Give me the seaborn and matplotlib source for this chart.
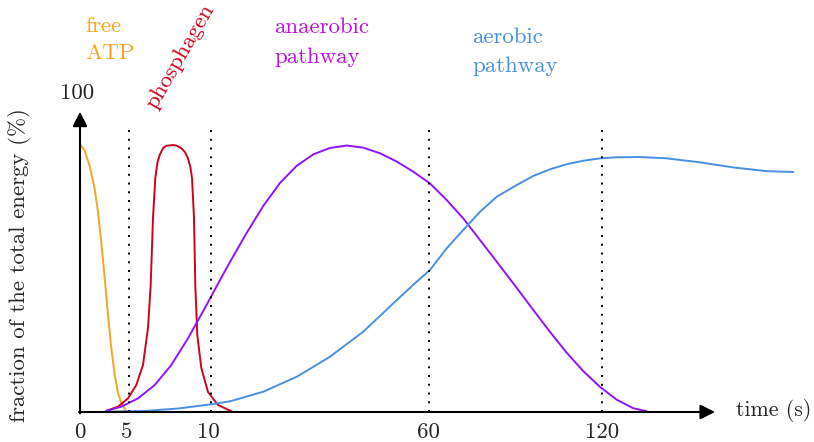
import numpy as np
import pandas as pd
import seaborn as sns
import matplotlib.pyplot as plt

# schematic x position along the time axis (not linear in seconds), y = % of total energy
atp_x = [0, 0.7, 4.7, 9.7, 14.7, 18, 21.3, 24.7, 28, 31.3, 34.7, 38, 41.3, 46.3]
atp_y = [100, 100, 97.8, 92.1, 83.5, 74.9, 63.7, 50.2, 36.3, 23.9, 13.9, 7.1, 3.4, 0.2]

phos_x = [26.3, 38, 48, 56.3, 63, 68, 70.7, 73, 75.3, 77.5, 79.7, 83, 86.3, 93, 97, 101.3, 105,
          108, 110.5, 112, 114, 115.3, 117.3, 121.3, 128, 138, 153]
phos_y = [0.4, 2.0, 5.1, 10.1, 17.6, 31.5, 47.6, 72.7, 87.6, 93.5, 96.3, 98.8, 99.7, 100, 99.7,
          98.8, 97.3, 95.0, 91.5, 87.6, 72.7, 47.6, 28.8, 16.5, 7.5, 2.6, 0]

anaer_x = [26.3, 41.3, 58, 74.7, 91.3, 108, 124.7, 141.3, 150, 166.7, 183.3, 200, 216.7, 233.3,
           250, 266.7, 283.3, 300, 316.7, 333.3, 350, 366.7, 383.3, 400, 416.7, 436.7, 453.3,
           470, 486.7, 503.3, 520, 536.7, 553.3, 566.7]
anaer_y = [0.4, 2.0, 5.1, 10.1, 17.6, 27.6, 38.8, 50.3, 56.2, 67.1, 77.2, 85.8, 92.2, 96.5,
           98.9, 99.8, 99.0, 96.9, 93.8, 90.0, 85.6, 79.4, 72.5, 64.4, 56.3, 46.5, 38.2,
           30.0, 22.2, 15.3, 9.4, 4.6, 1.4, 0.3]

aer_x = [26.3, 64.7, 98, 131.3, 150, 183.3, 216.7, 250, 283.3, 316.7, 336.7, 350, 366.7, 383.3,
         400, 416.7, 436.7, 453.3, 470, 486.7, 503.3, 520, 536.7, 560, 586.7, 620, 653.3,
         686.7, 713.3]
aer_y = [0.1, 0.4, 1.3, 2.9, 4.0, 7.6, 13.2, 20.7, 30.1, 41.9, 48.8, 53.2, 61.3, 68.2,
         75.0, 80.6, 85.0, 88.4, 90.9, 92.8, 94.1, 95.0, 95.4, 95.5, 95.0, 93.5, 91.6,
         90.2, 89.9]

tick_pos = [0, 47, 128, 348, 522]
tick_labels = ['0', '5', '10', '60', '120']
limit_pos = [49, 131, 349, 522]

sns.set_style('white')
plt.rcParams['font.family'] = ['cmr10', 'DejaVu Serif']
plt.rcParams['axes.formatter.use_mathtext'] = True

fig = plt.figure(figsize=(8.14, 4.42), dpi=100)
ax = fig.add_axes([80 / 814, 30 / 442, 734 / 814, 267 / 442])
ax.set_xlim(0, 734)
ax.set_ylim(0, 100)
ax.axis('off')

curves = [
    (atp_x, atp_y, '#F5A623'),
    (phos_x, phos_y, '#D0021B'),
    (anaer_x, anaer_y, '#9013FE'),
    (aer_x, aer_y, '#4A90E2'),
]
for xs, ys, col in curves:
    df = pd.DataFrame({'x': xs, 'y': ys})
    sns.lineplot(data=df, x='x', y='y', sort=False, color=col, lw=1.4, ax=ax)
for line in ax.lines:
    line.set_clip_on(False)
    line.set_solid_joinstyle('round')

# dotted limits
for p in limit_pos:
    ax.plot([p, p], [0, 106.7], color='black', lw=1.4, ls=(0, (1, 3.5)), clip_on=False)

# axes with arrows
ax.annotate('', xy=(635, 0), xytext=(-1, 0), annotation_clip=False,
            arrowprops=dict(arrowstyle='-|>', lw=1.5, color='black', mutation_scale=22,
                            shrinkA=0, shrinkB=0))
ax.annotate('', xy=(0, 112.5), xytext=(0, -0.5), annotation_clip=False,
            arrowprops=dict(arrowstyle='-|>', lw=1.5, color='black', mutation_scale=22,
                            shrinkA=0, shrinkB=0))

fs = 16.5
for p, lab in zip(tick_pos, tick_labels):
    ax.text(p, -7.5, lab, ha='center', va='center', fontsize=fs)
ax.text(-3, 119.5, '100', ha='center', va='center', fontsize=fs)
ax.text(656, 0.5, 'time (s)', ha='left', va='center', fontsize=15.8)
ax.text(-60, 55, 'fraction of the total energy (%)', rotation=90, ha='center', va='center', fontsize=fs)

# region labels
ax.text(5, 144.6, 'free', color='#F5A623', ha='left', va='center', fontsize=fs)
ax.text(5, 134.5, 'ATP', color='#F5A623', ha='left', va='center', fontsize=fs)
ax.text(100, 133, 'phosphagen', color='#D0021B', rotation=60, rotation_mode='anchor',
        ha='center', va='center', fontsize=fs)
ax.text(194, 144.2, 'anaerobic', color='#BD10E0', ha='left', va='center', fontsize=fs)
ax.text(194, 133, 'pathway', color='#BD10E0', ha='left', va='center', fontsize=fs)
ax.text(392, 140.4, 'aerobic', color='#4A90E2', ha='left', va='center', fontsize=fs)
ax.text(392, 129.6, 'pathway', color='#4A90E2', ha='left', va='center', fontsize=fs)

fig.savefig('out.png', dpi=100)
